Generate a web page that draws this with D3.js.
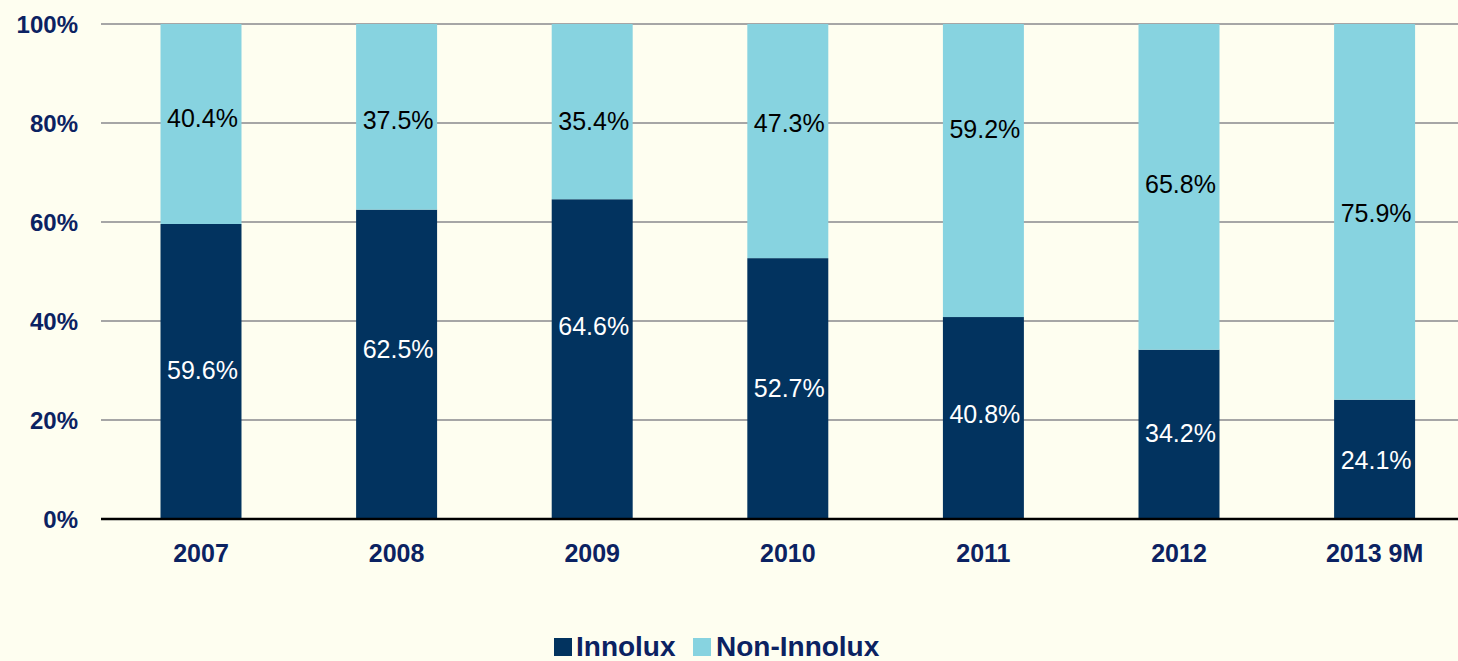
<!DOCTYPE html>
<html>
<head>
<meta charset="utf-8">
<script src="https://cdn.jsdelivr.net/npm/d3@7"></script>
<style>
  html, body { margin: 0; padding: 0; background: #FEFEF0; }
  svg { display: block; }
  text { font-family: "Liberation Sans", Arial, sans-serif; }
</style>
</head>
<body>
<svg id="chart" width="1458" height="661"></svg>
<script>
// ---- data ----
const categories = ["2007", "2008", "2009", "2010", "2011", "2012", "2013 9M"];
const innolux    = [59.6, 62.5, 64.6, 52.7, 40.8, 34.2, 24.1];
const nonInnolux = [40.4, 37.5, 35.4, 47.3, 59.2, 65.8, 75.9];
// where each value label sits, in percent units (as in the source chart)
const innoluxLabelAt    = [30.1, 34.3, 39.0, 26.5, 21.2, 17.4, 11.9];
const nonInnoluxLabelAt = [81.0, 80.6, 80.5, 80.0, 78.8, 67.7, 61.8];
const yTicks = [0, 20, 40, 60, 80, 100];
const seriesNames = ["Innolux", "Non-Innolux"];

// ---- styles ----
const colDark = "#02335F";
const colLight = "#87D3E0";
const colText = "#0B2262";

const svg = d3.select("#chart");
const W = 1458;

const x = d3.scaleBand()
  .domain(categories)
  .range([103.2, 1472.4])
  .paddingInner(0.586)
  .paddingOuter(0.293);

const y = d3.scaleLinear().domain([0, 100]).range([519, 24]);

// gridlines
svg.append("g").selectAll("line")
  .data(yTicks.filter(t => t > 0))
  .join("line")
  .attr("x1", 101).attr("x2", W)
  .attr("y1", d => y(d)).attr("y2", d => y(d))
  .attr("stroke", "#A6A6A6").attr("stroke-width", 2);

// y axis labels
const yAxis = d3.axisLeft(y).tickValues(yTicks).tickFormat(d => d + "%").tickSize(0).tickPadding(0);
const gy = svg.append("g").attr("transform", "translate(78,0)").call(yAxis);
gy.select(".domain").remove();
gy.selectAll("text")
  .attr("fill", colText)
  .attr("font-size", 24)
  .attr("font-weight", "bold")
  .attr("dy", "0.36em");

// bars
const rows = categories.map((c, i) => ({ c, a: innolux[i], b: nonInnolux[i], la: innoluxLabelAt[i], lb: nonInnoluxLabelAt[i] }));

svg.append("g").selectAll("rect.dark")
  .data(rows).join("rect")
  .attr("x", d => x(d.c)).attr("width", x.bandwidth())
  .attr("y", d => y(d.a)).attr("height", d => y(0) - y(d.a))
  .attr("fill", colDark);

svg.append("g").selectAll("rect.light")
  .data(rows).join("rect")
  .attr("x", d => x(d.c)).attr("width", x.bandwidth())
  .attr("y", d => y(d.a + d.b)).attr("height", d => y(d.a) - y(d.a + d.b))
  .attr("fill", colLight);

// x axis line
svg.append("line")
  .attr("x1", 101).attr("x2", W)
  .attr("y1", y(0)).attr("y2", y(0))
  .attr("stroke", "#000").attr("stroke-width", 2.5);

// x axis labels
const xAxis = d3.axisBottom(x).tickSize(0).tickPadding(0);
const gx = svg.append("g").attr("transform", `translate(0,${y(0)})`).call(xAxis);
gx.select(".domain").remove();
gx.selectAll("text")
  .attr("fill", colText)
  .attr("font-size", 25)
  .attr("font-weight", "bold")
  .attr("y", 43)
  .attr("dy", 0);

// value labels
svg.append("g").selectAll("text")
  .data(rows).join("text")
  .attr("x", d => x(d.c) + x.bandwidth() / 2 + 1.5)
  .attr("y", d => y(d.la))
  .attr("dy", "0.36em")
  .attr("text-anchor", "middle")
  .attr("font-size", 25)
  .attr("fill", "#FFFFFF")
  .text(d => d.a.toFixed(1) + "%");

svg.append("g").selectAll("text")
  .data(rows).join("text")
  .attr("x", d => x(d.c) + x.bandwidth() / 2 + 1.5)
  .attr("y", d => y(d.lb))
  .attr("dy", "0.36em")
  .attr("text-anchor", "middle")
  .attr("font-size", 25)
  .attr("fill", "#000000")
  .text(d => d.b.toFixed(1) + "%");

// legend
const legend = svg.append("g");
const legendItems = [
  { name: seriesNames[0], color: colDark, sx: 554, tx: 576 },
  { name: seriesNames[1], color: colLight, sx: 693, tx: 716 }
];
legend.selectAll("rect").data(legendItems).join("rect")
  .attr("x", d => d.sx).attr("y", 638).attr("width", 18).attr("height", 18)
  .attr("fill", d => d.color);
legend.selectAll("text").data(legendItems).join("text")
  .attr("x", d => d.tx).attr("y", 656)
  .attr("font-size", 28).attr("font-weight", "bold")
  .attr("fill", colText)
  .text(d => d.name);
</script>
</body>
</html>
